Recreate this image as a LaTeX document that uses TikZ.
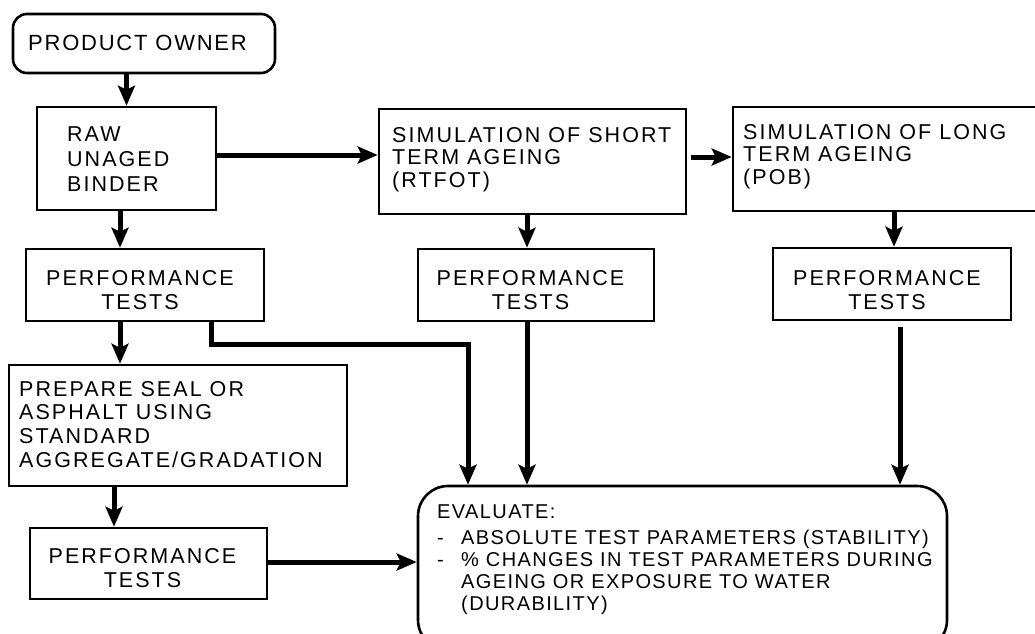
\documentclass[tikz,border=0pt]{standalone}
\usepackage{fontspec}
\setmainfont{Liberation Sans}
\newfontfamily\boxfont[LetterSpace=9.5]{Liberation Sans}
\newfontfamily\pofont[LetterSpace=8]{Liberation Sans}
\newfontfamily\evalfont[LetterSpace=7]{Liberation Sans}
\usetikzlibrary{arrows.meta}
\begin{document}
\begin{tikzpicture}[x=1pt,y=-1pt,
  box/.style={draw, line width=2.6pt, inner sep=0pt},
  txt/.style={inner sep=0pt, anchor=north west, align=left, font=\boxfont\fontsize{21.5}{24}\selectfont},
  ctxt/.style={inner sep=0pt, anchor=north, align=center, font=\boxfont\fontsize{21.5}{24}\selectfont},
  conn/.style={line width=5pt, -{Stealth[length=20pt,width=17pt,inset=4pt]}}]
\useasboundingbox (0,0) rectangle (1035,633);
\clip (0,0) rectangle (1035,633);
\fill[white] (0,0) rectangle (1035,633);

% boxes
\node[box, rounded corners=14pt, minimum width=262pt, minimum height=59pt] (po) at (144,43.5) {};
\node[txt, font=\pofont\fontsize{22}{24}\selectfont] (pot) at (28,35) {PRODUCT OWNER};

\node[box, minimum width=179pt, minimum height=103pt] (raw) at (126.5,158.5) {};
\node[txt, font=\boxfont\fontsize{21.5}{25}\selectfont] (rawt) at (67,127) {RAW\\UNAGED\\BINDER};

\node[box, minimum width=307pt, minimum height=105pt] (sim1) at (532.5,161.5) {};
\node[txt, font=\boxfont\fontsize{21.5}{22.5}\selectfont] (sim1t) at (392,127) {SIMULATION OF SHORT\\TERM AGEING\\(RTFOT)};

\node[box, minimum width=312pt, minimum height=104pt] (sim2) at (889,159) {};
\node[txt, font=\boxfont\fontsize{21.5}{22.5}\selectfont] (sim2t) at (743,124) {SIMULATION OF LONG\\TERM AGEING\\(POB)};

\node[box, minimum width=238pt, minimum height=72pt] (pt1) at (145,285) {};
\node[ctxt] (pt1t) at (140,270) {PERFORMANCE\\TESTS};

\node[box, minimum width=236pt, minimum height=72pt] (ptm) at (536,285) {};
\node[ctxt] (ptmt) at (530.5,270) {PERFORMANCE\\TESTS};

\node[box, minimum width=238pt, minimum height=72pt] (ptr) at (892,284) {};
\node[ctxt] (ptrt) at (887,270) {PERFORMANCE\\TESTS};

\node[box, minimum width=338pt, minimum height=121pt] (prep) at (178,425.5) {};
\node[txt, font=\boxfont\fontsize{21.5}{23.7}\selectfont] (prept) at (19,381) {PREPARE SEAL OR\\ASPHALT USING\\STANDARD\\AGGREGATE/GRADATION};

\node[box, minimum width=237pt, minimum height=71pt] (pt3) at (148.5,563.5) {};
\node[ctxt] (pt3t) at (142.5,548) {PERFORMANCE\\TESTS};

\node[box, rounded corners=30pt, minimum width=529pt, minimum height=164pt] (ev) at (682.5,568) {};
\node[txt, font=\evalfont\fontsize{20}{22}\selectfont] (evt) at (437,505) {EVALUATE:\\[4pt]
\makebox[24pt][l]{-}ABSOLUTE TEST PARAMETERS (STABILITY)\\
\makebox[24pt][l]{-}\% CHANGES IN TEST PARAMETERS DURING\\
\hspace*{24pt}AGEING OR EXPOSURE TO WATER\\
\hspace*{24pt}(DURABILITY)};

% connectors
\draw[conn] (po.south -| raw.north) -- (raw.north);
\coordinate (a1) at ([yshift=3.5pt]raw.east);
\draw[conn] (a1) -- (a1 -| sim1.west);
\coordinate (a2) at ([xshift=4pt,yshift=4.5pt]sim1.east);
\draw[conn] (a2) -- (a2 -| sim2.west);
\coordinate (a3) at ([xshift=-5.5pt]sim1.south);
\draw[conn] (a3) -- (a3 |- ptm.north);
\coordinate (a4) at ([xshift=5pt]sim2.south);
\draw[conn] (a4) -- (a4 |- ptr.north);
\coordinate (a5) at ([xshift=-6.5pt]raw.south);
\draw[conn] (a5) -- (a5 |- pt1.north);
\coordinate (a6) at ([xshift=-25pt]pt1.south);
\draw[conn] (a6) -- (a6 |- prep.north);
\coordinate (a7) at ([xshift=66.5pt]pt1.south);
\coordinate (k1) at (468,344);
\draw[conn] (a7) |- (k1) -- (k1 |- ev.north);
\coordinate (a9) at ([xshift=-9pt]ptm.south);
\draw[conn] (a9) -- (a9 |- ev.north);
\coordinate (a10) at ([xshift=8pt,yshift=-6pt]ptr.south);
\draw[conn] (a10) -- (a10 |- ev.north);
\coordinate (a11) at ([xshift=-64pt]prep.south);
\draw[conn] (a11) -- (a11 |- pt3.north);
\coordinate (a12) at ([yshift=1.5pt]pt3.east);
\draw[conn] (a12) -- (a12 -| ev.west);
\end{tikzpicture}
\end{document}
